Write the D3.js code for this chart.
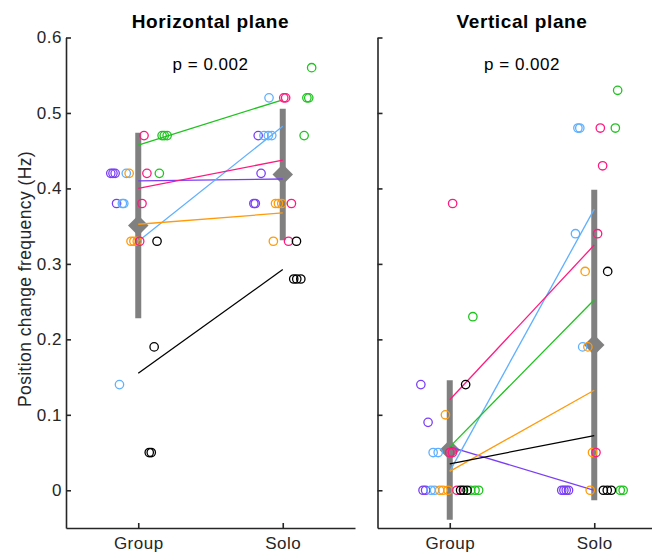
<!DOCTYPE html>
<html>
<head>
<meta charset="utf-8">
<script src="https://cdn.jsdelivr.net/npm/d3@7"></script>
<style>
  body { margin: 0; background: #fff; }
  svg { display: block; font-family: "Liberation Sans", Arial, sans-serif; }
</style>
</head>
<body>
<svg id="chart" width="652" height="557"></svg>
<script>
// conditions on the x axis
const conditions = ["Group", "Solo"];
const yTicks = [0, 0.1, 0.2, 0.3, 0.4, 0.5, 0.6];

// 6 teams x 4 participants
const teamColors = ["#7a3ff5", "#5fb0ff", "#ff9a0a", "#ff1a80", "#1ec31e", "#000000"];
const team = [0,0,0,0, 1,1,1,1, 2,2,2,2, 3,3,3,3, 4,4,4,4, 5,5,5,5];

// Horizontal plane
const horizGroup       = [0.42,0.42,0.42,0.38, 0.42,0.38,0.38,0.14, 0.42,0.33,0.33,0.33, 0.47,0.42,0.38,0.33, 0.47,0.47,0.47,0.42, 0.33,0.19,0.05,0.05];
const horizGroupJitter = [-0.19,-0.175,-0.16,-0.15, -0.083,-0.11,-0.10,-0.13, -0.063,-0.05,-0.03,-0.007, 0.04,0.06,0.026,0.01, 0.165,0.18,0.20,0.146, 0.13,0.11,0.076,0.09];
const horizSolo        = [0.47,0.42,0.38,0.38, 0.52,0.47,0.47,0.47, 0.38,0.38,0.38,0.33, 0.52,0.52,0.38,0.33, 0.56,0.52,0.52,0.47, 0.33,0.28,0.28,0.28];
const horizSoloJitter  = [-0.17,-0.15,-0.20,-0.19, -0.095,-0.13,-0.10,-0.076, -0.05,-0.03,-0.007,-0.065, 0.007,0.02,0.06,0.04, 0.20,0.167,0.18,0.148, 0.095,0.076,0.097,0.125];

// Vertical plane
const vertGroup        = [0.14,0.09,0,0, 0.05,0.05,0,0, 0.10,0,0,0, 0.38,0.05,0.05,0, 0.23,0,0,0, 0.14,0,0,0];
const vertGroupJitter  = [-0.20,-0.15,-0.185,-0.167, -0.115,-0.08,-0.13,-0.105, -0.03,-0.07,-0.047,-0.012, 0.02,0,0.019,0.05, 0.16,0.145,0.175,0.2, 0.11,0.075,0.095,0.12];
const vertSolo         = [0,0,0,0, 0.48,0.48,0.34,0.19, 0.29,0.19,0.05,0, 0.48,0.43,0.34,0.05, 0.53,0.48,0,0, 0.29,0,0,0];
const vertSoloJitter   = [-0.225,-0.21,-0.194,-0.178, -0.113,-0.10,-0.13,-0.08, -0.063,-0.044,-0.012,-0.028, 0.042,0.058,0.023,0.012, 0.162,0.146,0.18,0.20, 0.093,0.063,0.09,0.118];

const panels = [
  { title: "Horizontal plane", p: "p = 0.002", left: 66, labels: true,
    group: horizGroup, groupJ: horizGroupJitter, solo: horizSolo, soloJ: horizSoloJitter },
  { title: "Vertical plane", p: "p = 0.002", left: 377.5, labels: false,
    group: vertGroup, groupJ: vertGroupJitter, solo: vertSolo, soloJ: vertSoloJitter }
];

const svg = d3.select("#chart");
const plotTop = 37.5, plotBottom = 528, panelW = 289;
const ink = "#262626";

const y = d3.scaleLinear().domain([-0.05, 0.6]).range([plotBottom, plotTop]);

panels.forEach(pn => {
  const x = d3.scaleLinear().domain([0.5, 2.5]).range([pn.left, pn.left + panelW]);
  const g = svg.append("g");
  const cx = pn.left + panelW / 2;

  // mean +- sd bars and mean diamonds
  [pn.group, pn.solo].forEach((vals, i) => {
    const m = d3.mean(vals), sd = d3.deviation(vals);
    g.append("line")
      .attr("x1", x(i + 1)).attr("x2", x(i + 1))
      .attr("y1", y(m - sd)).attr("y2", y(m + sd))
      .attr("stroke", "#808080").attr("stroke-width", 6);
    g.append("path")
      .attr("d", d3.symbol(d3.symbolSquare, 210)())
      .attr("transform", `translate(${x(i + 1)},${y(m)}) rotate(45)`)
      .attr("fill", "#808080");
  });

  // team mean lines
  teamColors.forEach((c, t) => {
    const mg = d3.mean(pn.group.filter((v, i) => team[i] === t));
    const ms = d3.mean(pn.solo.filter((v, i) => team[i] === t));
    g.append("line")
      .attr("x1", x(1)).attr("y1", y(mg))
      .attr("x2", x(2)).attr("y2", y(ms))
      .attr("stroke", c).attr("stroke-width", 1.3);
  });

  // individual points
  [[pn.group, pn.groupJ, 1], [pn.solo, pn.soloJ, 2]].forEach(([vals, jit, k]) => {
    g.append("g").selectAll("circle")
      .data(vals)
      .join("circle")
      .attr("cx", (d, i) => x(k + jit[i]))
      .attr("cy", d => y(d))
      .attr("r", 4.2)
      .attr("fill", "none")
      .attr("stroke", (d, i) => teamColors[team[i]])
      .attr("stroke-width", 1.3);
  });

  // axes
  const yAxis = d3.axisLeft(y).tickValues(yTicks).tickSizeInner(-5).tickSizeOuter(0).tickPadding(4)
    .tickFormat(pn.labels ? d3.format("~g") : "");
  const ya = g.append("g").attr("transform", `translate(${pn.left},0)`).call(yAxis);

  const xAxis = d3.axisBottom(x).tickValues([1, 2]).tickSizeInner(-5).tickSizeOuter(0).tickPadding(9)
    .tickFormat(d => conditions[d - 1]);
  const xa = g.append("g").attr("transform", `translate(0,${plotBottom})`).call(xAxis);

  [ya, xa].forEach(a => {
    a.select(".domain").attr("stroke", ink).attr("stroke-width", 1.6);
    a.selectAll(".tick line").attr("stroke", ink).attr("stroke-width", 1.6);
    a.selectAll(".tick text").attr("fill", ink)
      .style("font-size", "17px").style("letter-spacing", "0.5px")
      .style("font-family", "Liberation Sans, Arial, sans-serif");
  });

  g.append("text")
    .attr("x", cx).attr("y", 28)
    .attr("text-anchor", "middle")
    .style("font-size", "19px").style("font-weight", "bold").style("letter-spacing", "0.6px")
    .attr("fill", "#000")
    .text(pn.title);

  g.append("text")
    .attr("x", cx).attr("y", 70)
    .attr("text-anchor", "middle")
    .style("font-size", "17px").style("letter-spacing", "0.5px")
    .attr("fill", "#000")
    .text(pn.p);
});

svg.append("text")
  .attr("transform", "translate(31,279) rotate(-90)")
  .attr("text-anchor", "middle")
  .style("font-size", "17.5px").style("letter-spacing", "0.4px")
  .attr("fill", ink)
  .text("Position change frequency (Hz)");
</script>
</body>
</html>
